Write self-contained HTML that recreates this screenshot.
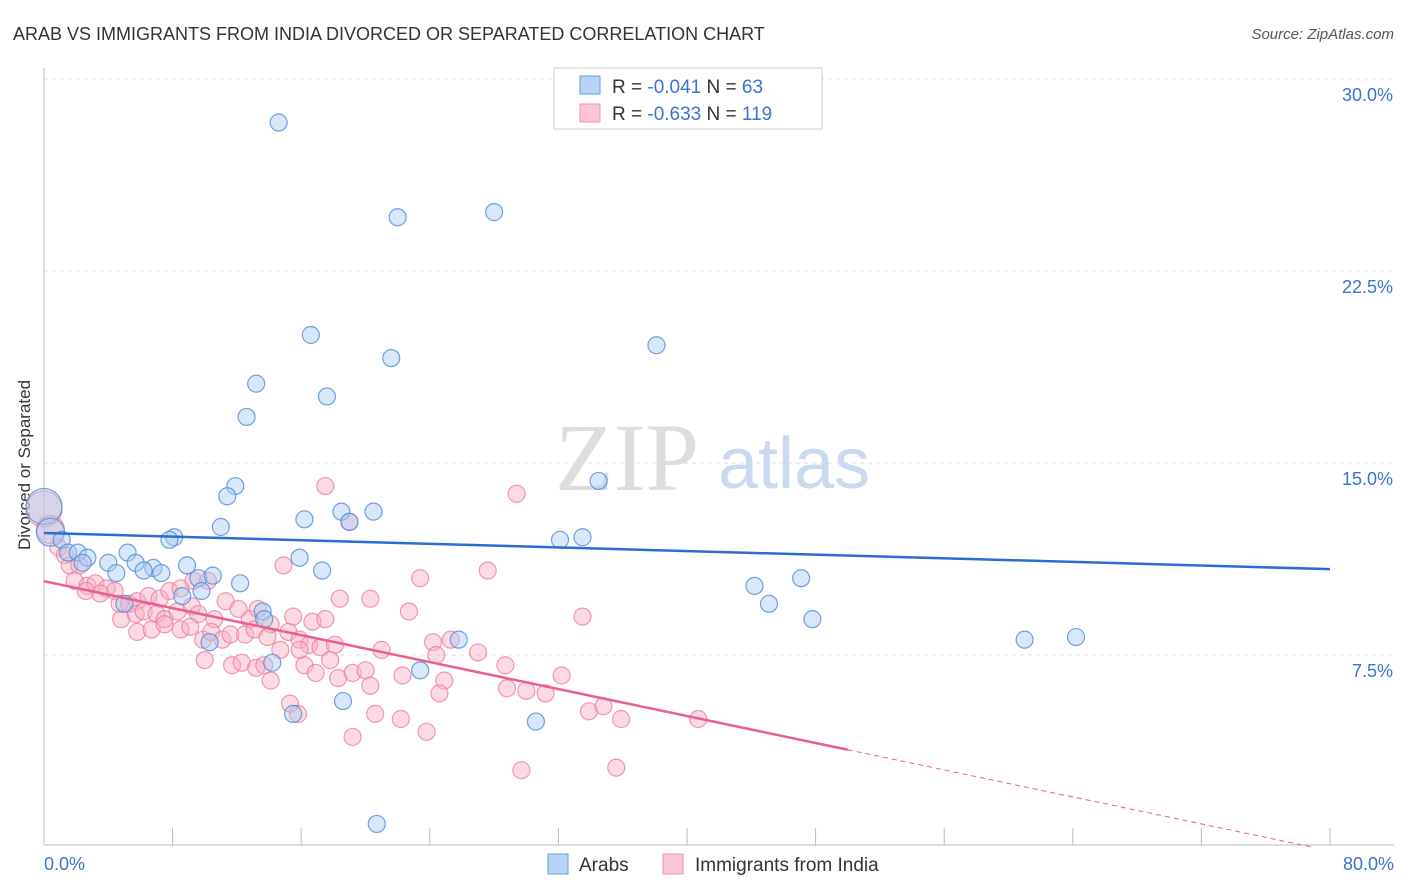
<!DOCTYPE html>
<html><head><meta charset="utf-8"><style>
body{margin:0;background:#fff;font-family:"Liberation Sans",sans-serif}
svg{display:block}
</style></head><body>
<svg id="chart" width="1406" height="892" xmlns="http://www.w3.org/2000/svg">
<text x="13" y="40" font-size="18" fill="#333">ARAB VS IMMIGRANTS FROM INDIA DIVORCED OR SEPARATED CORRELATION CHART</text>
<text x="1394" y="39" font-size="15" fill="#555" font-style="italic" text-anchor="end">Source: ZipAtlas.com</text>
<g>
<text x="555" y="490" font-size="96" font-family="Liberation Serif,serif" fill="#ddd">ZIP</text>
<text x="718" y="488" font-size="72" fill="#c9daf0">atlas</text>
</g>
<g id="grid"></g>
<line x1="44" y1="68" x2="44" y2="845" stroke="#bbb"/>
<line x1="44" y1="845" x2="1394" y2="845" stroke="#bbb"/>
<text x="20" y="455" font-size="17" fill="#333" transform="rotate(-90 30 455)" text-anchor="middle">Divorced or Separated</text>
<text x="44" y="870" font-size="18" fill="#3b73d1">0.0%</text>
<text x="1394" y="870" font-size="18" fill="#3b73d1" text-anchor="end">80.0%</text>
<g id="pts"></g>
<g id="lines"></g>
<g>
<rect x="554" y="68" width="268" height="61" fill="#fff" stroke="#ccc"/>
<rect x="580" y="76" width="20" height="18" fill="#b7d3f5" stroke="#6a9be0"/>
<rect x="580" y="104" width="20" height="18" fill="#fcc4d4" stroke="#ef93ad"/>
<text x="612" y="93" font-size="19" fill="#333">R = <tspan fill="#3b73d1">-0.041</tspan>   N = <tspan fill="#3b73d1">63</tspan></text>
<text x="612" y="120" font-size="19" fill="#333">R = <tspan fill="#3b73d1">-0.633</tspan>   N = <tspan fill="#3b73d1">119</tspan></text>
</g>
<g>
<rect x="548" y="854" width="20" height="20" fill="#b7d3f5" stroke="#6a9be0"/>
<text x="579" y="871" font-size="19" fill="#333">Arabs</text>
<rect x="663" y="854" width="20" height="20" fill="#fcc4d4" stroke="#ef93ad"/>
<text x="695" y="871" font-size="19" fill="#333">Immigrants from India</text>
</g>
</svg>
<script>
const yTicks=[7.5,15,22.5,30];
const xTicks=[0,8,16,24,32,40,48,56,64,72,80];
const arabX=[14.6,22.0,28.0,16.6,21.6,38.1,13.2,17.6,12.6,11.9,11.4,34.5,11.0,16.2,18.5,20.5,19.0,8.1,7.8,32.1,33.5,0,0.4,1.1,1.5,2.1,2.7,2.4,4.0,5.2,5.7,6.8,4.5,6.2,7.3,8.9,9.6,10.5,15.9,17.3,12.2,8.6,9.8,5.0,13.6,13.7,10.3,25.8,14.2,23.4,18.6,15.5,30.6,20.7,44.2,47.1,45.1,47.8,61.0,64.2];
const arabY=[28.3,24.6,24.8,20.0,19.1,19.6,18.1,17.6,16.8,14.1,13.7,14.3,12.5,12.8,13.1,13.1,12.7,12.1,12.0,12.0,12.1,13.3,12.3,12.0,11.5,11.5,11.3,11.1,11.1,11.5,11.1,10.9,10.7,10.8,10.7,11.0,10.5,10.6,11.3,10.8,10.3,9.8,10.0,9.5,9.2,8.9,8.0,8.1,7.2,6.9,5.7,5.2,4.9,0.9,10.2,10.5,9.5,8.9,8.1,8.2];
const indiaX=[17.5,29.4,19.0,0,0.4,0.9,1.3,1.6,2.2,1.9,2.7,3.2,3.9,4.4,2.6,3.5,4.7,5.3,5.8,6.5,7.2,7.8,8.5,9.3,10.2,14.9,23.4,27.6,4.8,5.7,6.2,7.0,7.5,8.3,9.2,9.6,10.6,11.3,12.1,12.8,13.3,14.1,15.5,16.7,17.5,18.4,20.3,22.7,33.5,5.8,6.7,7.5,8.5,9.1,9.9,10.4,11.1,11.6,12.5,13.1,13.9,15.2,15.9,16.5,14.7,15.9,17.2,18.1,21.0,24.2,25.3,24.4,27.0,10.0,11.7,12.3,13.2,13.7,16.2,16.9,17.8,18.3,19.2,20.0,14.1,20.3,22.3,24.9,24.6,28.7,28.8,30.0,31.2,32.2,15.3,15.8,20.6,22.2,33.9,34.8,35.9,40.7,19.2,23.8,29.7,35.6];
const indiaY=[14.1,13.8,12.7,13.2,12.4,11.7,11.4,11.0,11.0,10.4,10.2,10.3,10.1,10.0,10.0,9.9,9.5,9.5,9.6,9.8,9.7,10.0,10.1,10.4,10.4,11.0,10.5,10.8,8.9,9.1,9.2,9.1,8.9,9.2,9.4,9.1,8.9,9.6,9.3,8.9,9.3,8.7,9.0,8.8,8.9,9.7,9.7,9.2,9.0,8.4,8.5,8.7,8.5,8.6,8.1,8.4,8.1,8.3,8.3,8.5,8.2,8.4,8.1,7.9,7.7,7.7,7.8,7.9,7.7,8.0,8.1,7.5,7.6,7.3,7.1,7.2,7.0,7.1,7.1,6.8,7.3,6.6,6.8,6.9,6.5,6.3,6.7,6.5,6.0,7.1,6.2,6.1,6.0,6.7,5.6,5.2,5.2,5.0,5.3,5.5,5.0,5.0,4.3,4.5,3.0,3.1];
const NS='http://www.w3.org/2000/svg';
const sx=v=>44+v/80*1286;
const sy=v=>847-v/7.5*192;
function mk(tag,attrs,parent){const e=document.createElementNS(NS,tag);for(const k in attrs)e.setAttribute(k,attrs[k]);parent.appendChild(e);return e;}
const grid=document.getElementById('grid');
yTicks.forEach(t=>{
 const l=mk('line',{x1:44,x2:1394,y1:sy(t),y2:sy(t),stroke:'#ddd','stroke-dasharray':'4,4'},grid);
 
 
 const tx=mk('text',{x:1393,y:sy(t)+22,'font-size':18,fill:'#3b73d1','text-anchor':'end'},grid);
 tx.textContent=t.toFixed(1)+'%';
 
 
});
xTicks.forEach(t=>{
 const l=mk('line',{x1:sx(t),x2:sx(t),y1:828,y2:845,stroke:'#bbb'},grid);
 
 
});
const pts=document.getElementById('pts');
function drawPts(X,Y,fill,stroke,name){
 X.forEach((x,i)=>{
  const r=(x===0)?18:(x<0.5?14:8.5);
  const c=mk('circle',{cx:sx(x),cy:sy(Y[i]),r:r,fill:fill,'fill-opacity':0.45,stroke:stroke,'stroke-opacity':0.8,'stroke-width':1.2},pts);
  
  
 });
}
drawPts(indiaX,indiaY,'#f9aec3','#ec7fa0','india-point');
drawPts(arabX,arabY,'#a9c9f2','#4f8ad8','arab-point');
function reg(X,Y){const n=X.length;let mx=0,my=0;X.forEach((x,i)=>{mx+=x;my+=Y[i];});mx/=n;my/=n;let sxy=0,sxx=0;X.forEach((x,i)=>{sxy+=(x-mx)*(Y[i]-my);sxx+=(x-mx)**2;});const b=sxy/sxx;return [my-b*mx,b];}
const lines=document.getElementById('lines');
const [ab,bb]=reg(arabX,arabY);
let l=mk('line',{x1:sx(0),y1:sy(ab),x2:sx(80),y2:sy(ab+bb*80),stroke:'#2a6dd2','stroke-width':2.5},lines);


const [ai,bi]=reg(indiaX,indiaY);
l=mk('line',{x1:sx(0),y1:sy(ai),x2:sx(50),y2:sy(ai+bi*50),stroke:'#e8608c','stroke-width':2.5},lines);


let xe=Math.min(80,-ai/bi>50?-ai/bi:80);
l=mk('line',{x1:sx(50),y1:sy(ai+bi*50),x2:sx(xe),y2:sy(ai+bi*xe),stroke:'#e8608c','stroke-width':1,'stroke-dasharray':'5,4'},lines);


</script>
</body></html>
